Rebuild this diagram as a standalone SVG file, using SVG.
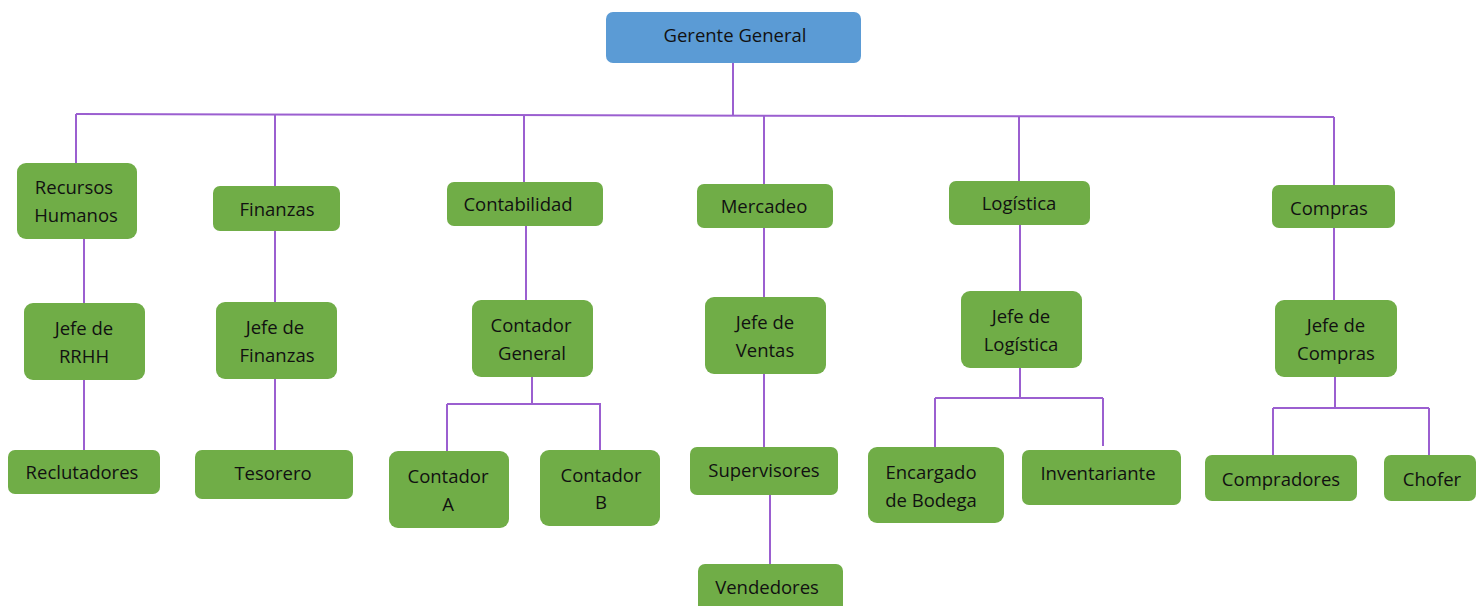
<svg xmlns="http://www.w3.org/2000/svg" width="1483" height="606" viewBox="0 0 1483 606">
  <style>
    .box { fill: #70AD47; }
    .top { fill: #5B9BD5; }
    .lbl { font-family: "Open Sans", "Liberation Sans", sans-serif; font-size: 18.5px; fill: #111; text-anchor: middle; dominant-baseline: central; }
    .ln { stroke: #9B5FD0; stroke-width: 2; fill: none; }
  </style>
  <rect width="1483" height="606" fill="#ffffff"/>

  <g id="connectors">
    <path class="ln" d="M733 63 V115"/>
    <path class="ln" d="M76 114 L1334 117"/>
    <path class="ln" d="M76 114 V163"/>
    <path class="ln" d="M275 115 V186"/>
    <path class="ln" d="M524 115 V182"/>
    <path class="ln" d="M764 116 V184"/>
    <path class="ln" d="M1019 116 V181"/>
    <path class="ln" d="M1334 117 V185"/>
    <path class="ln" d="M84 239 V303"/>
    <path class="ln" d="M275 231 V302"/>
    <path class="ln" d="M526 226 V300"/>
    <path class="ln" d="M764 228 V297"/>
    <path class="ln" d="M1020 225 V291"/>
    <path class="ln" d="M1334 228 V300"/>
    <path class="ln" d="M84 380 V450"/>
    <path class="ln" d="M275 379 V450"/>
    <path class="ln" d="M532 377 V404 M447 404 H601 M447 404 V451 M600 404 V450"/>
    <path class="ln" d="M764 374 V447"/>
    <path class="ln" d="M770 495 V564"/>
    <path class="ln" d="M1020 368 V398 M935 398 H1103 M935 398 V447 M1103 398 V446"/>
    <path class="ln" d="M1335 377 V408 M1273 408 H1429 M1273 408 V455 M1429 408 V455"/>
  </g>

  <g id="gerente-general">
    <rect class="top" x="606" y="12" width="255" height="51" rx="7"/>
    <text class="lbl" x="735" y="34">Gerente General</text>
  </g>

  <g id="recursos-humanos">
    <rect class="box" x="17" y="163" width="120" height="76" rx="9"/>
    <text class="lbl" x="74" y="186">Recursos</text>
    <text class="lbl" x="76" y="214">Humanos</text>
  </g>
  <g id="finanzas">
    <rect class="box" x="213" y="186" width="127" height="45" rx="7"/>
    <text class="lbl" x="277" y="208">Finanzas</text>
  </g>
  <g id="contabilidad">
    <rect class="box" x="447" y="182" width="156" height="44" rx="7"/>
    <text class="lbl" x="518" y="203">Contabilidad</text>
  </g>
  <g id="mercadeo">
    <rect class="box" x="697" y="184" width="136" height="44" rx="7"/>
    <text class="lbl" x="764" y="205">Mercadeo</text>
  </g>
  <g id="logistica">
    <rect class="box" x="949" y="181" width="141" height="44" rx="7"/>
    <text class="lbl" x="1019" y="202">Logística</text>
  </g>
  <g id="compras">
    <rect class="box" x="1272" y="185" width="123" height="43" rx="7"/>
    <text class="lbl" x="1329" y="207">Compras</text>
  </g>

  <g id="jefe-rrhh">
    <rect class="box" x="24" y="303" width="121" height="77" rx="9"/>
    <text class="lbl" x="84" y="327">Jefe de</text>
    <text class="lbl" x="84" y="355">RRHH</text>
  </g>
  <g id="jefe-finanzas">
    <rect class="box" x="216" y="302" width="121" height="77" rx="9"/>
    <text class="lbl" x="275" y="326">Jefe de</text>
    <text class="lbl" x="277" y="354">Finanzas</text>
  </g>
  <g id="contador-general">
    <rect class="box" x="472" y="300" width="121" height="77" rx="9"/>
    <text class="lbl" x="531" y="324">Contador</text>
    <text class="lbl" x="532" y="352">General</text>
  </g>
  <g id="jefe-ventas">
    <rect class="box" x="705" y="297" width="121" height="77" rx="9"/>
    <text class="lbl" x="765" y="321">Jefe de</text>
    <text class="lbl" x="765" y="349">Ventas</text>
  </g>
  <g id="jefe-logistica">
    <rect class="box" x="961" y="291" width="121" height="77" rx="9"/>
    <text class="lbl" x="1021" y="315">Jefe de</text>
    <text class="lbl" x="1021" y="343">Logística</text>
  </g>
  <g id="jefe-compras">
    <rect class="box" x="1275" y="300" width="122" height="77" rx="9"/>
    <text class="lbl" x="1336" y="324">Jefe de</text>
    <text class="lbl" x="1336" y="352">Compras</text>
  </g>

  <g id="reclutadores">
    <rect class="box" x="8" y="450" width="152" height="44" rx="7"/>
    <text class="lbl" x="82" y="471">Reclutadores</text>
  </g>
  <g id="tesorero">
    <rect class="box" x="195" y="450" width="158" height="49" rx="7"/>
    <text class="lbl" x="273" y="472">Tesorero</text>
  </g>
  <g id="contador-a">
    <rect class="box" x="389" y="451" width="120" height="77" rx="9"/>
    <text class="lbl" x="448" y="475">Contador</text>
    <text class="lbl" x="448" y="503">A</text>
  </g>
  <g id="contador-b">
    <rect class="box" x="540" y="450" width="120" height="76" rx="9"/>
    <text class="lbl" x="601" y="474">Contador</text>
    <text class="lbl" x="601" y="501">B</text>
  </g>
  <g id="supervisores">
    <rect class="box" x="690" y="447" width="148" height="48" rx="7"/>
    <text class="lbl" x="764" y="469">Supervisores</text>
  </g>
  <g id="vendedores">
    <rect class="box" x="698" y="564" width="145" height="50" rx="7"/>
    <text class="lbl" x="767" y="586">Vendedores</text>
  </g>
  <g id="encargado-bodega">
    <rect class="box" x="868" y="447" width="136" height="76" rx="9"/>
    <text class="lbl" x="931" y="471">Encargado</text>
    <text class="lbl" x="931" y="499">de Bodega</text>
  </g>
  <g id="inventariante">
    <rect class="box" x="1022" y="450" width="159" height="55" rx="7"/>
    <text class="lbl" x="1098" y="472">Inventariante</text>
  </g>
  <g id="compradores">
    <rect class="box" x="1205" y="455" width="152" height="46" rx="7"/>
    <text class="lbl" x="1281" y="478">Compradores</text>
  </g>
  <g id="chofer">
    <rect class="box" x="1384" y="455" width="92" height="46" rx="7"/>
    <text class="lbl" x="1432" y="478">Chofer</text>
  </g>
</svg>
